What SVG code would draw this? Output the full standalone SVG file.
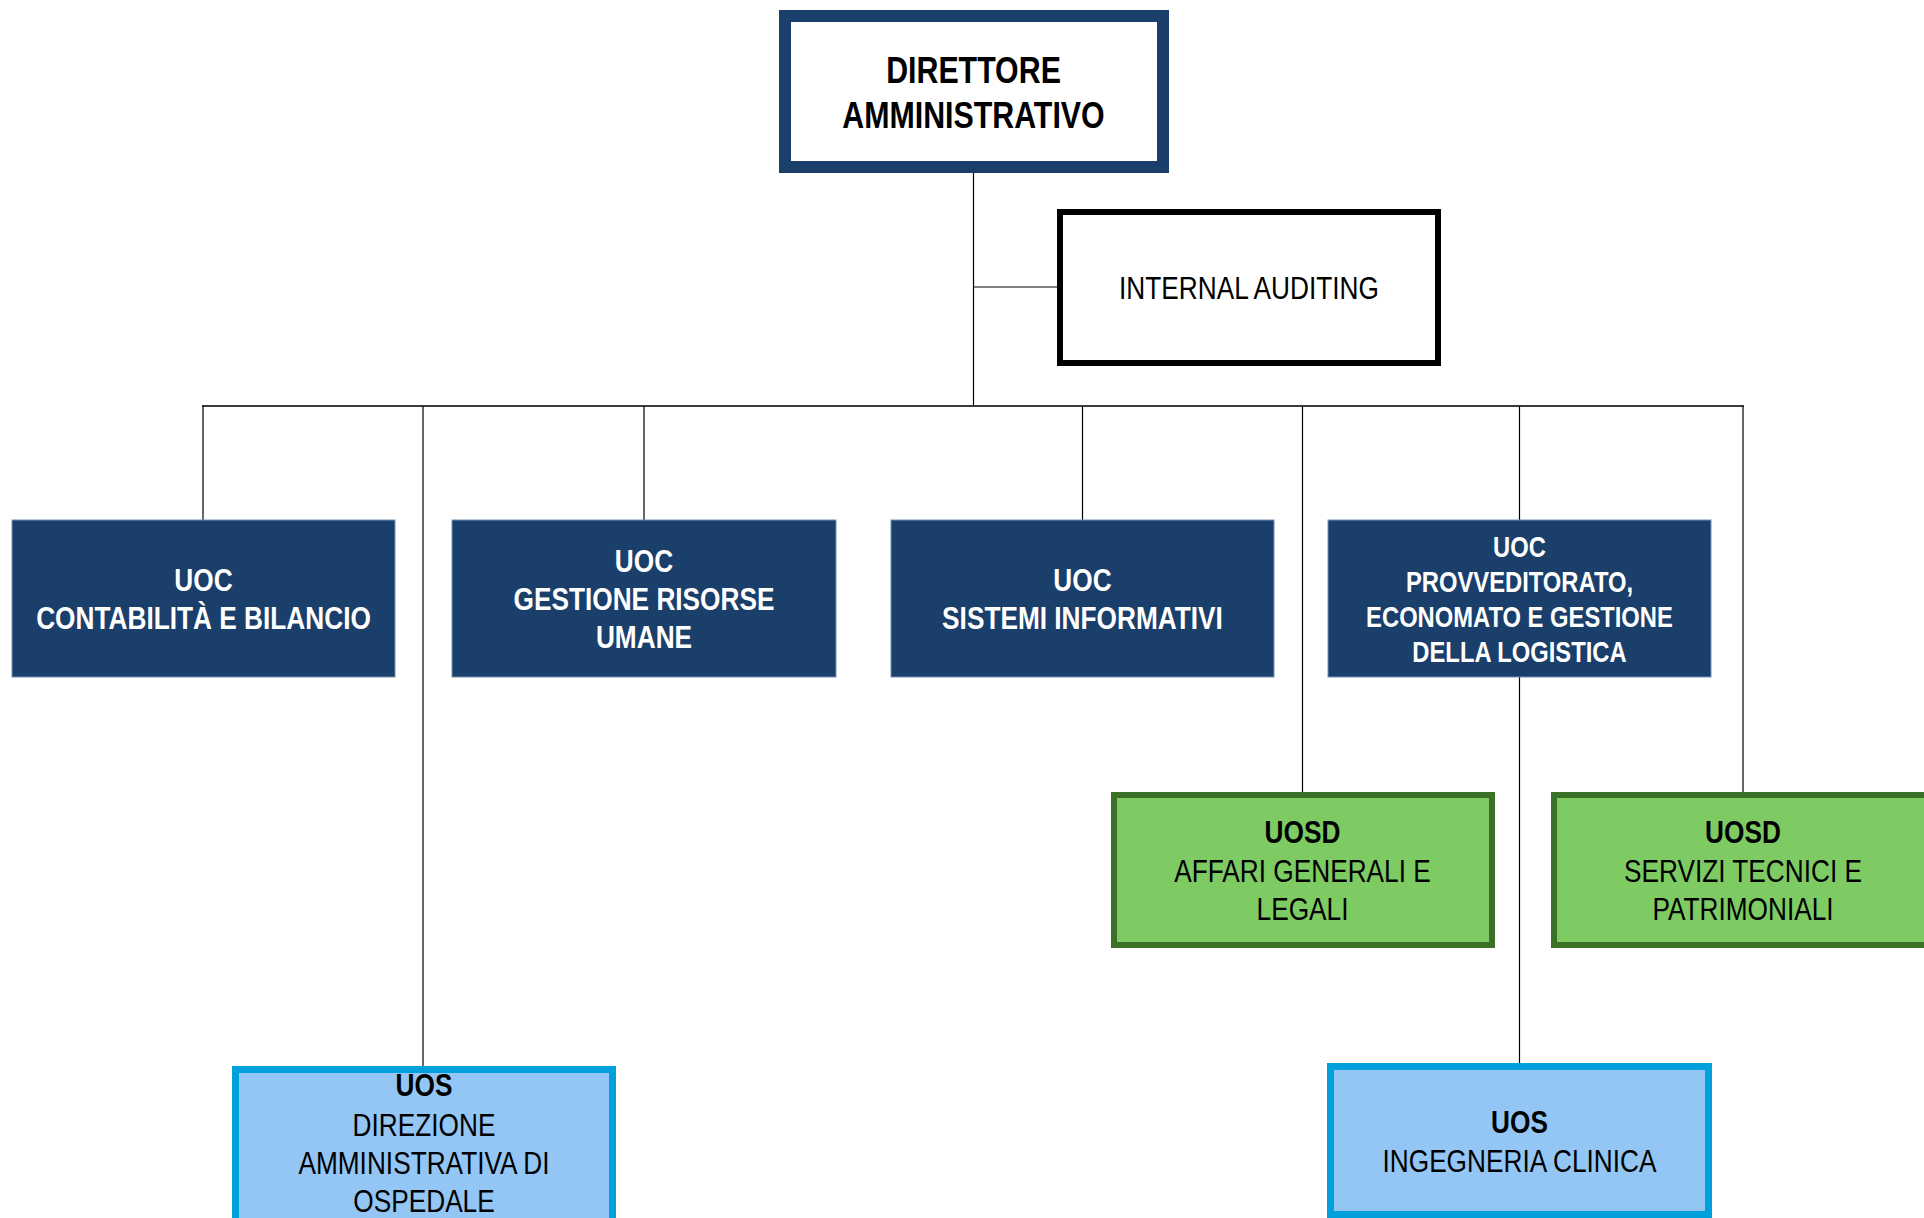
<svg xmlns="http://www.w3.org/2000/svg" width="1924" height="1218" viewBox="0 0 1924 1218">
<style>
  text { font-family: "Liberation Sans", Arial, sans-serif; text-anchor: middle; }
  .uoc rect { fill: #1b3f6b; stroke: #7591b3; stroke-width: 1; }
  .uoc text { fill: #ffffff; font-weight: bold; font-size: 32px; }
  .uoc4 text { font-size: 29px; }
  .uosd rect { fill: #7dcb62; stroke: #3b7126; stroke-width: 6; }
  .uos rect { fill: #93c6f4; stroke: #00a0dc; stroke-width: 7; }
  .lbl { fill: #000000; font-size: 32px; }
  .b { font-weight: bold; }
  .da { font-size: 37px; }
  .conn line { stroke: #000000; stroke-width: 1.2; }
  .conn .bus { stroke: #3a3a3a; stroke-width: 2; }
</style>
<rect x="0" y="0" width="1924" height="1218" fill="#ffffff"/>

<g id="connectors" class="conn">
  <line x1="973.5" y1="173" x2="973.5" y2="406"/>
  <line x1="973.5" y1="287" x2="1057" y2="287"/>
  <line class="bus" x1="202" y1="406" x2="1744" y2="406"/>
  <line x1="203" y1="406" x2="203" y2="520"/>
  <line x1="423" y1="406" x2="423" y2="1066"/>
  <line x1="644" y1="406" x2="644" y2="520"/>
  <line x1="1082.5" y1="406" x2="1082.5" y2="520"/>
  <line x1="1302.5" y1="406" x2="1302.5" y2="792"/>
  <line x1="1519.5" y1="406" x2="1519.5" y2="520"/>
  <line x1="1519.5" y1="677" x2="1519.5" y2="1063"/>
  <line x1="1743" y1="406" x2="1743" y2="792"/>
</g>

<g id="direttore-amministrativo">
  <rect x="785" y="16" width="378" height="151" fill="#ffffff" stroke="#1b3f6b" stroke-width="12"/>
  <g transform="translate(973.5 0) scale(0.82 1)">
    <text class="lbl b da" x="0" y="83">DIRETTORE</text>
    <text class="lbl b da" x="0" y="128">AMMINISTRATIVO</text>
  </g>
</g>

<g id="internal-auditing">
  <rect x="1060" y="212" width="378" height="151" fill="#ffffff" stroke="#000000" stroke-width="6"/>
  <g transform="translate(1249 0) scale(0.82 1)">
    <text class="lbl" x="0" y="299">INTERNAL AUDITING</text>
  </g>
</g>

<g id="uoc-contabilita" class="uoc">
  <rect x="12" y="520" width="383" height="157"/>
  <g transform="translate(203.5 0) scale(0.82 1)">
    <text x="0" y="591">UOC</text>
    <text x="0" y="629">CONTABILITÀ E BILANCIO</text>
  </g>
</g>

<g id="uoc-risorse-umane" class="uoc">
  <rect x="452" y="520" width="384" height="157"/>
  <g transform="translate(644 0) scale(0.82 1)">
    <text x="0" y="572">UOC</text>
    <text x="0" y="610">GESTIONE RISORSE</text>
    <text x="0" y="648">UMANE</text>
  </g>
</g>

<g id="uoc-sistemi-informativi" class="uoc">
  <rect x="891" y="520" width="383" height="157"/>
  <g transform="translate(1082.5 0) scale(0.82 1)">
    <text x="0" y="591">UOC</text>
    <text x="0" y="629">SISTEMI INFORMATIVI</text>
  </g>
</g>

<g id="uoc-provveditorato" class="uoc uoc4">
  <rect x="1328" y="520" width="383" height="157"/>
  <g transform="translate(1519.5 0) scale(0.82 1)">
    <text x="0" y="557">UOC</text>
    <text x="0" y="592">PROVVEDITORATO,</text>
    <text x="0" y="627">ECONOMATO E GESTIONE</text>
    <text x="0" y="662">DELLA LOGISTICA</text>
  </g>
</g>

<g id="uosd-affari-generali" class="uosd">
  <rect x="1114" y="795" width="378" height="150"/>
  <g transform="translate(1302.5 0) scale(0.82 1)">
    <text class="lbl b" x="0" y="843">UOSD</text>
    <text class="lbl" x="0" y="882">AFFARI GENERALI E</text>
    <text class="lbl" x="0" y="920">LEGALI</text>
  </g>
</g>

<g id="uosd-servizi-tecnici" class="uosd">
  <rect x="1554" y="795" width="378" height="150"/>
  <g transform="translate(1743 0) scale(0.82 1)">
    <text class="lbl b" x="0" y="843">UOSD</text>
    <text class="lbl" x="0" y="882">SERVIZI TECNICI E</text>
    <text class="lbl" x="0" y="920">PATRIMONIALI</text>
  </g>
</g>

<g id="uos-direzione-ospedale" class="uos">
  <rect x="235.5" y="1069.5" width="377" height="165"/>
  <g transform="translate(424 0) scale(0.82 1)">
    <text class="lbl b" x="0" y="1096">UOS</text>
    <text class="lbl" x="0" y="1136">DIREZIONE</text>
    <text class="lbl" x="0" y="1174">AMMINISTRATIVA DI</text>
    <text class="lbl" x="0" y="1212">OSPEDALE</text>
  </g>
</g>

<g id="uos-ingegneria-clinica" class="uos">
  <rect x="1330.5" y="1066.5" width="378" height="148"/>
  <g transform="translate(1519.5 0) scale(0.82 1)">
    <text class="lbl b" x="0" y="1133">UOS</text>
    <text class="lbl" x="0" y="1172">INGEGNERIA CLINICA</text>
  </g>
</g>
</svg>
